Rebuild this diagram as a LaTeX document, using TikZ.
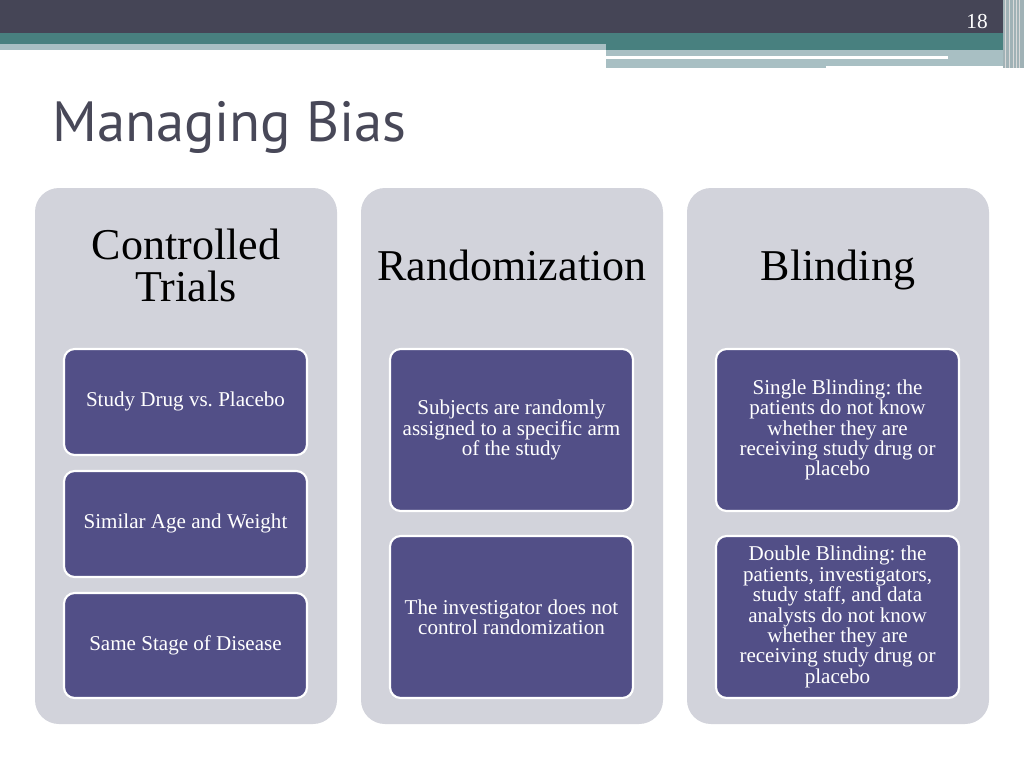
\documentclass[tikz,border=0pt]{standalone}
\usepackage{fontspec}
\setmainfont{Liberation Serif}
\newfontfamily\titlefont{PT Sans}
\usetikzlibrary{positioning}
\definecolor{darkbar}{HTML}{454556}
\definecolor{tealbar}{HTML}{48807F}
\definecolor{lightbar}{HTML}{A8BFC3}
\definecolor{panelgray}{HTML}{D2D3DB}
\definecolor{boxpurple}{HTML}{524F87}
\definecolor{titlegray}{HTML}{484858}
\tikzset{
  panel/.style={fill=panelgray, draw=none, rounded corners=18pt},
  itembox/.style={fill=boxpurple, draw=white, line width=1.6pt, rounded corners=8pt},
  itemtext/.style={text=white, align=center, font=\frenchspacing\fontsize{15.8pt}{15.3pt}\selectfont, inner sep=0pt},
  headtext/.style={text=black, align=center, font=\fontsize{33pt}{31.5pt}\selectfont, inner sep=0pt, anchor=base},
}
\begin{document}
\begin{tikzpicture}[x=0.75pt,y=-0.75pt]
\useasboundingbox (0,0) rectangle (1024,768);
\fill[white] (0,0) rectangle (1024,768);
% header bars
\fill[darkbar] (0,0) rectangle (1024,33);
\fill[tealbar] (0,33) rectangle (1005,44);
\fill[lightbar] (0,44) rectangle (606,50);
\fill[tealbar] (606,44) rectangle (1005,50);
\fill[lightbar] (606,50) rectangle (1005,68);
\fill[white] (606,55.5) rectangle (948,58.5);
\fill[white] (826,66) rectangle (1005,68);
\fill[lightbar!80!gray] (1003,0) rectangle (1024,68);
\foreach \xx in {1005,1009,1013,1016,1019} \fill[white!70!gray] (\xx,0) rectangle (\xx+1.2,68);
\node[text=white, font=\fontsize{16pt}{16pt}\selectfont, inner sep=0pt] (pagenum) at (977,22) {18};
% title
\node[anchor=base west, text=titlegray, font=\titlefont\fontsize{42.5pt}{42.5pt}\selectfont, inner sep=0pt] (title) at (52,141) {Managing Bias};
% panels
\fill[panel] (35,188) rectangle (337,724);
\fill[panel] (361,188) rectangle (663,724);
\fill[panel] (687,188) rectangle (989,724);
% headings
\node[headtext] (h1a) at (186,259) {Controlled};
\node[headtext] (h1b) at (186,301) {Trials};
\node[headtext] (h2) at (512,280) {Randomization};
\node[headtext] (h3) at (838,280) {Blinding};
% column 1
\draw[itembox] (64,349) rectangle (307,455);
\node[itemtext] (a1) at (185.5,401) {Study Drug vs. Placebo};
\draw[itembox] (64,471) rectangle (307,577);
\node[itemtext] (a2) at (185.5,523) {Similar Age and Weight};
\draw[itembox] (64,593) rectangle (307,698);
\node[itemtext] (a3) at (185.5,645) {Same Stage of Disease};
% column 2
\draw[itembox] (390,349) rectangle (633,511);
\node[itemtext] (b1) at (511.5,430) {Subjects are randomly\\assigned to a specific arm\\of the study};
\draw[itembox] (390,536) rectangle (633,698);
\node[itemtext] (b2) at (511.5,617) {The investigator does not\\control randomization};
% column 3
\draw[itembox] (716,349) rectangle (959,511);
\node[itemtext] (c1) at (837.5,430) {Single Blinding: the\\patients do not know\\whether they are\\receiving study drug or\\placebo};
\draw[itembox] (716,536) rectangle (959,698);
\node[itemtext] (c2) at (837.5,617) {Double Blinding: the\\patients, investigators,\\study staff, and data\\analysts do not know\\whether they are\\receiving study drug or\\placebo};
\end{tikzpicture}
\end{document}
